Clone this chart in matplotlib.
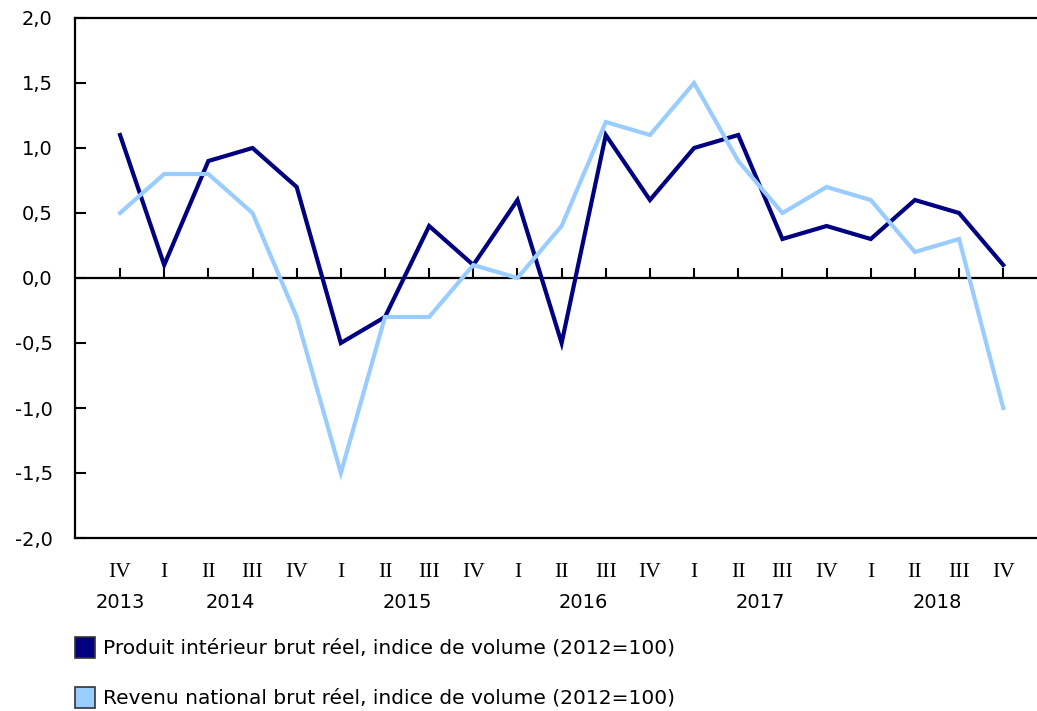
import matplotlib
matplotlib.use("Agg")
import matplotlib.pyplot as plt
from matplotlib.patches import Rectangle

quarters = ["IV", "I", "II", "III", "IV", "I", "II", "III", "IV", "I", "II",
            "III", "IV", "I", "II", "III", "IV", "I", "II", "III", "IV"]
years = ["2013", "2014", "2015", "2016", "2017", "2018"]
year_centers = [0, 2.5, 6.5, 10.5, 14.5, 18.5]
gdp = [1.1, 0.1, 0.9, 1.0, 0.7, -0.5, -0.3, 0.4, 0.1, 0.6, -0.5,
       1.1, 0.6, 1.0, 1.1, 0.3, 0.4, 0.3, 0.6, 0.5, 0.1]
gni = [0.5, 0.8, 0.8, 0.5, -0.3, -1.5, -0.3, -0.3, 0.1, 0.0, 0.4,
       1.2, 1.1, 1.5, 0.9, 0.5, 0.7, 0.6, 0.2, 0.3, -1.0]
series_labels = ["Produit intérieur brut réel, indice de volume (2012=100)",
                 "Revenu national brut réel, indice de volume (2012=100)"]
colors = ["#000080", "#99CCFF"]
yticks = [-2.0, -1.5, -1.0, -0.5, 0.0, 0.5, 1.0, 1.5, 2.0]

W, H = 1037, 711
fig = plt.figure(figsize=(W / 100, H / 100), dpi=100)
ax = fig.add_axes([75 / W, (H - 538) / H, (W - 75) / W + 0.01, (538 - 18) / H])

x = list(range(len(quarters)))
ax.plot(x, gdp, color=colors[0], lw=3.0, solid_joinstyle="miter", zorder=3)
ax.plot(x, gni, color=colors[1], lw=3.0, solid_joinstyle="miter", zorder=4)

ax.set_xlim(-1.02, 21)
ax.set_ylim(-2.0, 2.0)
ax.set_yticks(yticks)
ax.set_yticklabels([f"{v:.1f}".replace(".", ",") for v in yticks],
                   fontsize=14, family="DejaVu Sans")
ax.tick_params(axis="y", direction="in", length=8, width=1.5, pad=16)
ax.set_xticks([])
ax.spines["right"].set_visible(False)
for s in ["left", "top", "bottom"]:
    ax.spines[s].set_linewidth(1.6)

# zero line with small upward ticks
ax.axhline(0, color="black", lw=1.6, zorder=2)
for xi in x:
    ax.plot([xi, xi], [0, 0.08], color="black", lw=1.5, zorder=2,
            solid_capstyle="butt")

for xi, q in zip(x, quarters):
    ax.text(xi, -2.0 - 0.19, q, ha="center", va="top",
            fontsize=15.5, family="Liberation Serif")
for xc, yr in zip(year_centers, years):
    ax.text(xc, -2.0 - 0.42, yr, ha="center", va="top", fontsize=14,
            family="DejaVu Sans")

# legend
for i, (lab, c) in enumerate(zip(series_labels, colors)):
    ytop = 637 + i * 50
    fig.patches.append(Rectangle((75 / W, (H - ytop - 21) / H), 20 / W, 21 / H,
                                 transform=fig.transFigure, facecolor=c,
                                 edgecolor="#333333", lw=1.2))
    fig.text(103 / W, (H - ytop - 10.5) / H, lab, ha="left", va="center",
             fontsize=14.5, family="DejaVu Sans")

fig.savefig("out.png", dpi=100)
